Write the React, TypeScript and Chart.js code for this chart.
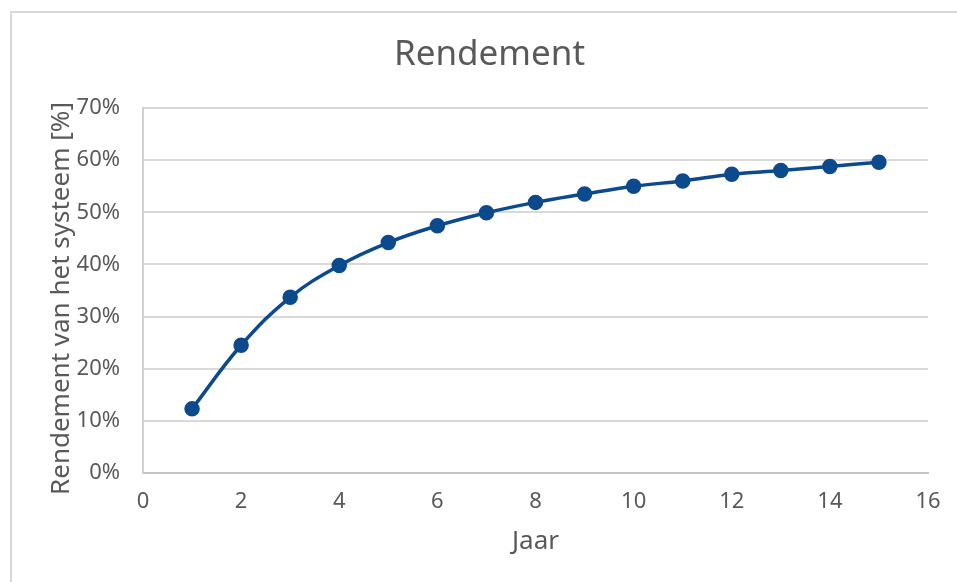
import React, { useEffect, useRef } from "react";
import { Chart, registerables } from "chart.js";

Chart.register(...registerables);

// Rendement per jaar (jaar 1 t/m 15), in procenten
const years = [1, 2, 3, 4, 5, 6, 7, 8, 9, 10, 11, 12, 13, 14, 15];
const efficiency = [12.3, 24.5, 33.7, 39.8, 44.2, 47.4, 49.9, 51.9, 53.5, 55.0, 56.0, 57.3, 58.0, 58.8, 59.6];

const chartTitle = "Rendement";
const xTitle = "Jaar";
const yTitle = "Rendement van het systeem [%]";

const FONT = "'Noto Sans', 'Open Sans', sans-serif";
const TEXT = "#595959";
const LINE = "#0c4a8d";

const CANVAS_W = 955;
const CANVAS_H = 575;
const PLOT_LEFT = 131;
const PLOT_BOTTOM = 460;

// Vertical axis title, drawn rotated beside the value labels
const yTitlePlugin = {
  id: "yTitle",
  afterDraw(chart: any) {
    const { ctx, chartArea } = chart;
    ctx.save();
    ctx.translate(50, (chartArea.top + chartArea.bottom) / 2 + 8);
    ctx.rotate(-Math.PI / 2);
    ctx.fillStyle = TEXT;
    ctx.font = `26px ${FONT}`;
    ctx.textAlign = "center";
    ctx.textBaseline = "middle";
    ctx.fillText(yTitle, 0, 0);
    ctx.restore();
  },
};

export default function App() {
  const ref = useRef<HTMLCanvasElement | null>(null);

  useEffect(() => {
    if (!ref.current) return;
    const points = years.map((x, i) => ({ x, y: efficiency[i] }));
    const chart = new Chart(ref.current, {
      type: "line",
      data: {
        datasets: [
          {
            data: points,
            borderColor: LINE,
            backgroundColor: LINE,
            borderWidth: 3.5,
            pointRadius: 7,
            pointHoverRadius: 7,
            pointBorderWidth: 1.5,
            pointBackgroundColor: LINE,
            pointBorderColor: LINE,
            tension: 0.4,
            fill: false,
            yAxisID: "y",
          },
        ],
      },
      options: {
        animation: false,
        responsive: false,
        devicePixelRatio: 1,
        layout: { padding: 0 },
        plugins: {
          legend: { display: false },
          tooltip: { enabled: false },
          title: {
            display: true,
            text: chartTitle,
            color: TEXT,
            font: { family: FONT, size: 35, weight: "normal" },
            padding: { top: 21, bottom: 32 },
          },
        },
        scales: {
          x: {
            type: "linear",
            min: 0,
            max: 16,
            grid: { display: false, drawTicks: false },
            border: { display: true, color: "#c4c4c4", width: 2 },
            ticks: {
              stepSize: 2,
              color: TEXT,
              padding: 16,
              font: { family: FONT, size: 22 },
            },
            title: {
              display: true,
              text: xTitle,
              color: TEXT,
              font: { family: FONT, size: 26 },
              padding: { top: 0, bottom: 31 },
            },
            afterFit: (scale: any) => {
              scale.height = CANVAS_H - PLOT_BOTTOM;
            },
          },
          y: {
            type: "linear",
            position: "left",
            min: 0,
            max: 70,
            grid: { color: "#d9d9d9", lineWidth: 2, drawTicks: false },
            border: { display: true, color: "#d0d0d0", width: 2 },
            ticks: {
              stepSize: 10,
              color: TEXT,
              padding: 23,
              font: { family: FONT, size: 22 },
              callback: (v: any) => `${v}%`,
            },
            afterFit: (scale: any) => {
              scale.width = PLOT_LEFT;
            },
          },
          // empty right-hand margin so the plot ends where the gridlines stop
          yMargin: {
            type: "linear",
            position: "right",
            display: true,
            grid: { display: false, drawTicks: false },
            border: { display: false },
            ticks: { display: false },
            afterFit: (scale: any) => {
              scale.width = 39;
            },
          },
        },
      },
      plugins: [yTitlePlugin],
    });
    return () => chart.destroy();
  }, []);

  return (
    <div
      style={{
        position: "absolute",
        left: 0,
        top: 0,
        width: 957,
        height: 582,
        overflow: "hidden",
        background: "#ffffff",
      }}
    >
      <div
        style={{
          position: "absolute",
          left: 10,
          top: 11,
          border: "2px solid #d9d9d9",
          background: "#ffffff",
          width: CANVAS_W,
          height: CANVAS_H,
        }}
      >
        <canvas
          ref={ref}
          width={CANVAS_W}
          height={CANVAS_H}
          style={{ display: "block", width: CANVAS_W, height: CANVAS_H }}
        />
      </div>
    </div>
  );
}
